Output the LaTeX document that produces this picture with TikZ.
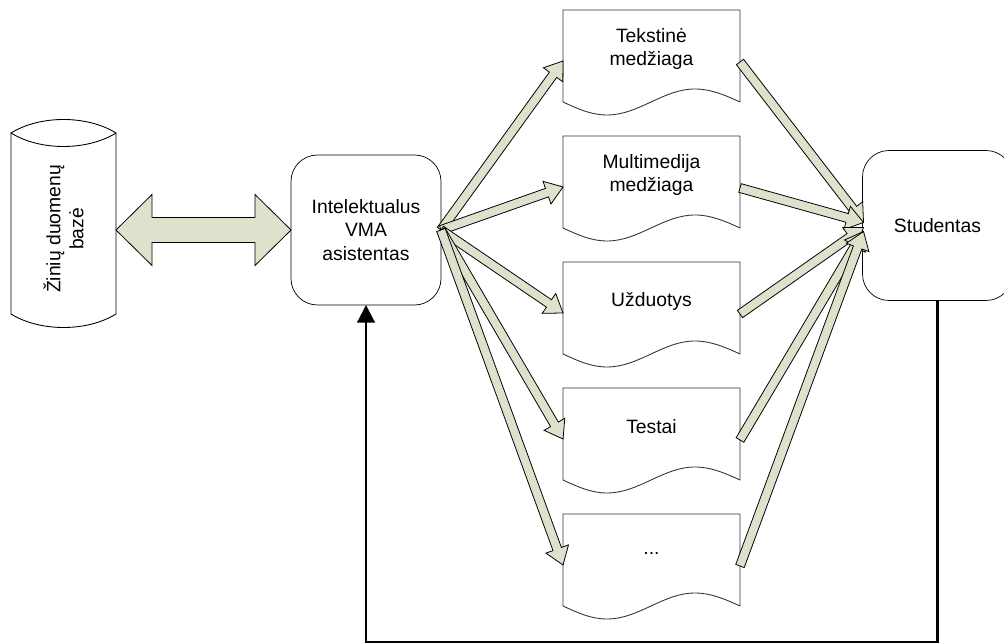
\documentclass[tikz,border=0pt]{standalone}
\usepackage{fontspec}
\setmainfont{Liberation Sans}
\usetikzlibrary{calc,arrows.meta,backgrounds}

\definecolor{arrowgreen}{RGB}{221,226,204}

\tikzset{
  txt/.style={align=center, font=\fontsize{11}{13.2}\selectfont},
  roundbox/.style={txt, draw, rounded corners=15pt, minimum width=3cm, minimum height=3cm, outer sep=0pt},
  doc/.style={txt, minimum width=3.54cm, inner sep=0pt, outer sep=0pt},
  docline/.style={draw=black!80, fill=white, line width=0.5pt},
  blockarrow/.style={draw=black, fill=arrowgreen, line width=0.45pt, line join=miter},
  feedback/.style={line width=1.2pt, -{Triangle[length=10pt,width=10pt]}}
}

% block arrow from #1 to #2 (both coordinate names)
\newcommand{\blockarr}[2]{%
  \coordinate (hd) at ($(#2)!0.34cm!(#1)$);
  \draw[blockarrow] ($(#1)!0.09cm!90:(#2)$) -- ($(hd)!0.09cm!90:(#2)$)
    -- ($(hd)!0.24cm!90:(#2)$) -- (#2) -- ($(hd)!0.24cm!-90:(#2)$)
    -- ($(hd)!0.09cm!-90:(#2)$) -- ($(#1)!0.09cm!-90:(#2)$) -- cycle;
}

\begin{document}
\begin{tikzpicture}[x=0.02cm, y=-0.02cm]
  \useasboundingbox (0,0) rectangle (1004,644);

  % Database cylinder
  \draw[line width=0.5pt] (11,133) -- (11,314) .. controls (40,332) and (87,332) .. (116,314)
    -- (116,133) .. controls (87,115) and (40,115) .. (11,133)
    .. controls (40,151) and (87,151) .. (116,133);
  \node[txt, rotate=90] (db) at (63.5,229) {Žinių duomenų\\bazė};
  \coordinate (dbr) at (116,230);

  % Assistant and student
  \node[roundbox] (vma) at (366,230) {Intelektualus\\VMA\\asistentas};
  \node[roundbox] (stud) at (937.5,225.5) {Studentas};

  % Learning material documents
  \node[doc] (tekst) at (651.5,49) {Tekstinė\\medžiaga};
  \node[doc] (multi) at (651.5,175) {Multimedija\\medžiaga};
  \node[doc] (uzd) at (651.5,301) {Užduotys};
  \node[doc] (test) at (651.5,427) {Testai};
  \node[doc] (kita) at (651.5,553) {...};

  \begin{scope}[on background layer]
  \foreach \nm in {tekst,multi,uzd,test,kita}
    \draw[docline] ($(\nm.west)+(0,-39)$) -- ++(0,92) sin ++(44,13) cos ++(44,-13)
      sin ++(44,-13) cos ++(45,13) -- ++(0,-92) -- cycle;
  \end{scope}

  % Database <-> assistant
  \draw[blockarrow] (dbr) -- ++(36,-35.5) -- ++(0,23) -- ($(vma.west)+(-36,-12.5)$)
    -- ++(0,-23) -- (vma.west) -- ++(-36,35.5) -- ++(0,-23)
    -- ($(dbr)+(36,12.5)$) -- ++(0,23) -- cycle;

  % Assistant -> documents -> student
  \foreach \nm/\dy in {tekst/-3,multi/-3,uzd/2,test/6,kita/6}{
    \coordinate (docl) at ($(\nm.west)+(0,12)$);
    \coordinate (docr) at ($(\nm.east)+(0,13)$);
    \coordinate (studin) at ($(stud.west)+(1,\dy)$);
    \blockarr{vma.east}{docl}
    \blockarr{docr}{studin}
  }

  % Feedback from student
  \coordinate (bottom) at (0,642);
  \draw[feedback] (stud.south) -- (stud.south |- bottom) -- (vma.south |- bottom) -- (vma.south);
\end{tikzpicture}
\end{document}
